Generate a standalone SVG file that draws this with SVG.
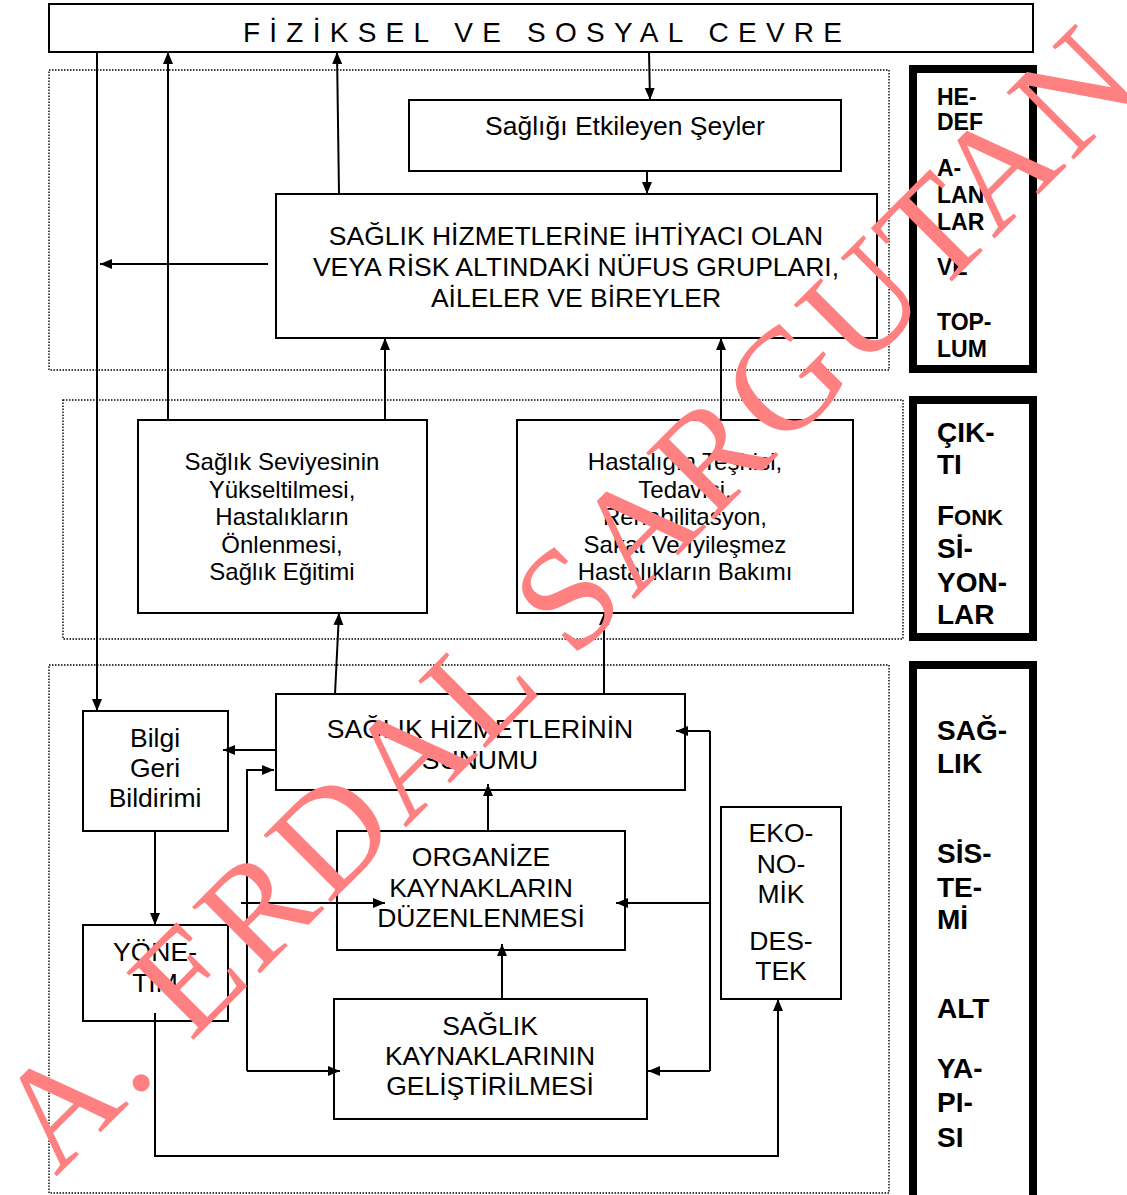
<svg xmlns="http://www.w3.org/2000/svg" width="1127" height="1195" viewBox="0 0 1127 1195">
<style>
.bx{fill:#fff;stroke:#000;stroke-width:2}
.dot{fill:none;stroke:#000;stroke-width:1.4;stroke-dasharray:1.5 1.5}
.hd{fill:#fff;stroke:#000;stroke-width:8}
.t{font-family:"Liberation Sans",Arial,sans-serif;font-size:26.5px;fill:#000;text-anchor:middle}
.s{font-family:"Liberation Sans",Arial,sans-serif;font-size:24px;fill:#000;text-anchor:middle}
.h1{font-family:"Liberation Sans",Arial,sans-serif;font-size:23px;font-weight:bold;fill:#000}
.h2{font-family:"Liberation Sans",Arial,sans-serif;font-size:28px;font-weight:bold;fill:#000}
.c{fill:none;stroke:#000;stroke-width:2}
.wm{font-family:"Liberation Serif","Times New Roman",serif;font-size:145px;fill:#FF8080}
</style>
<defs>
<marker id="ar" markerUnits="userSpaceOnUse" markerWidth="13" markerHeight="11" refX="12" refY="5" orient="auto" viewBox="0 0 13 11">
<path d="M0,0 L12,5 L0,10 z" fill="#000"/>
</marker>
</defs>
<rect width="1127" height="1195" fill="#fff"/>

<g id="regions">
<rect class="dot" x="49" y="70" width="840" height="300"/>
<rect class="dot" x="63" y="400" width="840" height="239"/>
<rect class="dot" x="49" y="665" width="840" height="528"/>
</g>

<g id="fiziksel-cevre">
<rect class="bx" x="49" y="4" width="984" height="48"/>
<text x="243" y="42" textLength="599" lengthAdjust="spacing" style="font-family:'Liberation Sans',Arial,sans-serif;font-size:28px;fill:#000">FİZİKSEL VE SOSYAL CEVRE</text>
</g>

<g id="hedef">
<rect class="hd" x="913" y="69" width="120" height="300"/>
<text class="h1" x="937"><tspan x="937" y="105">HE-</tspan><tspan x="937" y="130">DEF</tspan><tspan x="937" y="176">A-</tspan><tspan x="937" y="203">LAN-</tspan><tspan x="937" y="230">LAR</tspan><tspan x="937" y="275">VE</tspan><tspan x="937" y="330">TOP-</tspan><tspan x="937" y="357">LUM</tspan></text>
</g>

<g id="cikti">
<rect class="hd" x="913" y="400" width="120" height="237"/>
<text class="h2" x="937"><tspan x="937" y="442">ÇIK-</tspan><tspan x="937" y="474">TI</tspan><tspan x="937" y="525">F<tspan style="font-size:22px">ONK</tspan></tspan><tspan x="937" y="558">Sİ-</tspan><tspan x="937" y="592">YON-</tspan><tspan x="937" y="624">LAR</tspan></text>
</g>

<g id="altyapi">
<rect class="hd" x="913" y="665" width="120" height="534"/>
<text class="h2" x="937"><tspan x="937" y="740">SAĞ-</tspan><tspan x="937" y="773">LIK</tspan><tspan x="937" y="863">SİS-</tspan><tspan x="937" y="897">TE-</tspan><tspan x="937" y="929">Mİ</tspan><tspan x="937" y="1018">ALT</tspan><tspan x="937" y="1078">YA-</tspan><tspan x="937" y="1112">PI-</tspan><tspan x="937" y="1147">SI</tspan></text>
</g>

<g id="etkileyen">
<rect class="bx" x="409" y="100" width="432" height="71"/>
<text class="t" x="625" y="135">Sağlığı Etkileyen Şeyler</text>
</g>

<g id="nufus">
<rect class="bx" x="276" y="194" width="601" height="144"/>
<text class="t"><tspan x="576" y="245">SAĞLIK HİZMETLERİNE İHTİYACI OLAN</tspan><tspan x="576" y="276">VEYA RİSK ALTINDAKİ NÜFUS GRUPLARI,</tspan><tspan x="576" y="307">AİLELER VE BİREYLER</tspan></text>
</g>

<g id="seviye">
<rect class="bx" x="138" y="420" width="289" height="193"/>
<text class="s"><tspan x="282" y="470">Sağlık Seviyesinin</tspan><tspan x="282" y="498">Yükseltilmesi,</tspan><tspan x="282" y="525">Hastalıkların</tspan><tspan x="282" y="553">Önlenmesi,</tspan><tspan x="282" y="580">Sağlık Eğitimi</tspan></text>
</g>

<g id="teshis">
<rect class="bx" x="517" y="420" width="336" height="193"/>
<text class="s"><tspan x="685" y="470">Hastalığın Teşhisi,</tspan><tspan x="685" y="498">Tedavisi,</tspan><tspan x="685" y="525">Rehabilitasyon,</tspan><tspan x="685" y="553">Sakat Ve İyileşmez</tspan><tspan x="685" y="580">Hastalıkların Bakımı</tspan></text>
</g>

<g id="sunum">
<rect class="bx" x="276" y="694" width="409" height="96"/>
<text class="t"><tspan x="480" y="738">SAĞLIK HİZMETLERİNİN</tspan><tspan x="480" y="769">SUNUMU</tspan></text>
</g>

<g id="bilgi">
<rect class="bx" x="83" y="711" width="145" height="120"/>
<text class="t"><tspan x="155" y="747">Bilgi</tspan><tspan x="155" y="777">Geri</tspan><tspan x="155" y="807">Bildirimi</tspan></text>
</g>

<g id="yonetim">
<rect class="bx" x="83" y="925" width="145" height="96"/>
<text class="t"><tspan x="155" y="961">YÖNE-</tspan><tspan x="155" y="992">TİM</tspan></text>
</g>

<g id="organize">
<rect class="bx" x="337" y="831" width="288" height="119"/>
<text class="t"><tspan x="481" y="866">ORGANİZE</tspan><tspan x="481" y="897">KAYNAKLARIN</tspan><tspan x="481" y="927">DÜZENLENMESİ</tspan></text>
</g>

<g id="gelistirme">
<rect class="bx" x="334" y="999" width="313" height="120"/>
<text class="t"><tspan x="490" y="1035">SAĞLIK</tspan><tspan x="490" y="1065">KAYNAKLARININ</tspan><tspan x="490" y="1095">GELİŞTİRİLMESİ</tspan></text>
</g>

<g id="ekonomik">
<rect class="bx" x="721" y="807" width="120" height="192"/>
<text class="t"><tspan x="781" y="842">EKO-</tspan><tspan x="781" y="873">NO-</tspan><tspan x="781" y="903">MİK</tspan><tspan x="781" y="950">DES-</tspan><tspan x="781" y="980">TEK</tspan></text>
</g>

<g id="connectors">
<path class="c" d="M649,52 L650,100" marker-end="url(#ar)"/>
<path class="c" d="M647,171 L647,194" marker-end="url(#ar)"/>
<path class="c" d="M268,264 L100,264" marker-end="url(#ar)"/>
<path class="c" d="M97,52 L97,711" marker-end="url(#ar)"/>
<path class="c" d="M168,420 L168,52" marker-end="url(#ar)"/>
<path class="c" d="M339,194 L337,52" marker-end="url(#ar)"/>
<path class="c" d="M385,420 L385,338" marker-end="url(#ar)"/>
<path class="c" d="M721,420 L721,338" marker-end="url(#ar)"/>
<path class="c" d="M335,694 L339,613" marker-end="url(#ar)"/>
<path class="c" d="M604,694 L604,613" marker-end="url(#ar)"/>
<path class="c" d="M276,750 L223,750" marker-end="url(#ar)"/>
<path class="c" d="M247,1071 L247,770 L274,770" marker-end="url(#ar)"/>
<path class="c" d="M247,1071 L340,1071" marker-end="url(#ar)"/>
<path class="c" d="M155,831 L155,925" marker-end="url(#ar)"/>
<path class="c" d="M241,903 L385,903" marker-end="url(#ar)"/>
<path class="c" d="M488,831 L488,784" marker-end="url(#ar)"/>
<path class="c" d="M502,999 L502,944" marker-end="url(#ar)"/>
<path class="c" d="M710,731 L710,1071"/>
<path class="c" d="M710,731 L676,731" marker-end="url(#ar)"/>
<path class="c" d="M710,903 L616,903" marker-end="url(#ar)"/>
<path class="c" d="M710,1071 L648,1071" marker-end="url(#ar)"/>
<path class="c" d="M155,1013 L155,1156 L778,1156 L778,999" marker-end="url(#ar)"/>
</g>

<g id="watermark">
<text class="wm" x="-793" y="872" transform="rotate(-45)" textLength="1540" lengthAdjust="spacing">A. ERDAL SARGUTAN</text>
</g>
</svg>
